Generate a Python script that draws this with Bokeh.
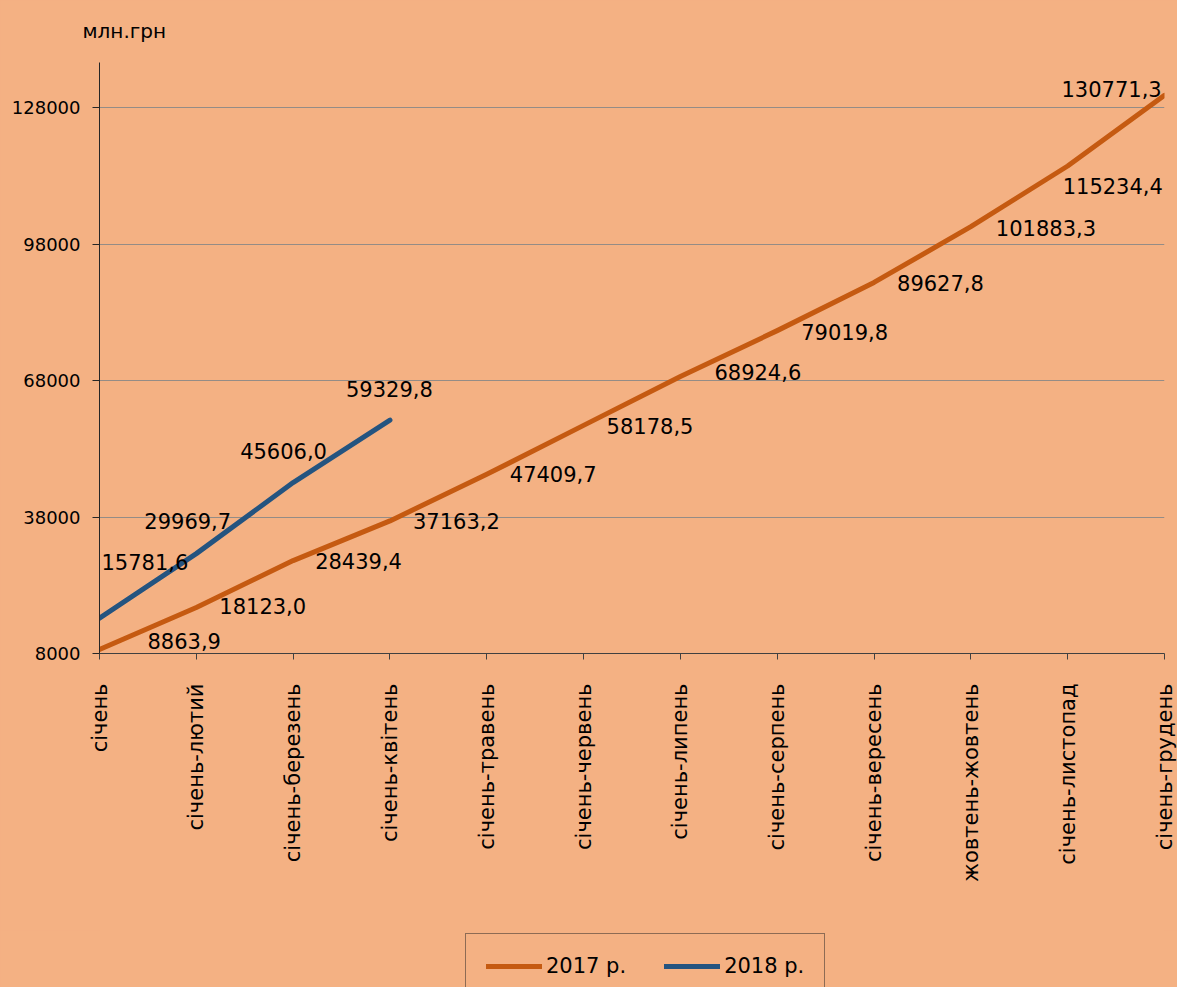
import math
from bokeh.plotting import figure
from bokeh.layouts import column
from bokeh.models import (Range1d, FixedTicker, PrintfTickFormatter, ColumnDataSource,
                          LabelSet, Legend, LegendItem)
from bokeh.core.properties import value
from bokeh.embed import file_html
from bokeh.resources import INLINE

# ---- data ----
periods = ["січень", "січень-лютий", "січень-березень", "січень-квітень",
           "січень-травень", "січень-червень", "січень-липень", "січень-серпень",
           "січень-вересень", "жовтень-жовтень", "січень-листопад", "січень-грудень"]
values_2017 = [8863.9, 18123.0, 28439.4, 37163.2, 47409.7, 58178.5,
               68924.6, 79019.8, 89627.8, 101883.3, 115234.4, 130771.3]
values_2018 = [15781.6, 29969.7, 45606.0, 59329.8]
y_ticks = [8000, 38000, 68000, 98000, 128000]
y_max = 138000
series_names = ["2017 р.", "2018 р."]
unit_label = "млн.грн"

# label placement offsets (screen px, right / down)
lab17_dx = [48, 23, 22, 23, 23, 23, 34, 24, 23, 25, -5, -103]
lab17_dy = [-1, 7, 8, 8, 8, 9, 3, 9, 9, 9, 28, 2]
lab18_dx = [2, -52, -53, -44]
lab18_dy = [-48, -25, -24, -23]

BG = "#F4B183"
C17 = "#C55A11"
C18 = "#245480"
GRID = "#948c86"
AXIS = "#404040"
FONT = "DejaVu Sans"

W, H = 1177, 987
H_MAIN = 930
H_LEG = H - H_MAIN
FRAME_L = 99


def fmt(v):
    return f"{v:.1f}".replace(".", ",")


src17 = ColumnDataSource(dict(
    x=list(range(len(values_2017))), y=values_2017,
    t=[fmt(v) for v in values_2017],
    dx=lab17_dx, dy=[-d for d in lab17_dy]))
src18 = ColumnDataSource(dict(
    x=list(range(len(values_2018))), y=values_2018,
    t=[fmt(v) for v in values_2018],
    dx=lab18_dx, dy=[-d for d in lab18_dy]))

n = len(periods)
p = figure(width=W, height=H_MAIN, output_backend="svg", toolbar_location=None,
           x_range=Range1d(0, n - 1), y_range=Range1d(y_ticks[0], y_max),
           min_border_left=FRAME_L, min_border_right=13,
           min_border_top=62, min_border_bottom=H_MAIN - 653)
p.background_fill_color = None
p.border_fill_color = BG
p.outline_line_color = None

# title as unit label
p.title.text = unit_label
p.title.align = "left"
p.title.vertical_align = "top"
p.title.offset = -17
p.title.text_font = FONT
p.title.text_font_size = "20px"
p.title.text_font_style = "normal"
p.title.text_color = "black"
p.title.standoff = 36

# x axis
p.xaxis.ticker = FixedTicker(ticks=list(range(n)))
p.xaxis.major_label_overrides = {i: s for i, s in enumerate(periods)}
p.xaxis.major_label_orientation = math.pi / 2
p.xaxis.major_label_text_font = FONT
p.xaxis.major_label_text_font_size = "21px"
p.xaxis.major_label_text_color = "black"
p.xaxis.major_label_standoff = 24
p.xaxis.major_tick_out = 6
p.xaxis.major_tick_in = 0
p.xaxis.minor_tick_line_color = None
p.xaxis.axis_line_color = AXIS
p.xaxis.major_tick_line_color = AXIS

# y axis
p.yaxis.ticker = FixedTicker(ticks=y_ticks)
p.yaxis.formatter = PrintfTickFormatter(format="%d")
p.yaxis.major_label_text_font = FONT
p.yaxis.major_label_text_font_size = "18px"
p.yaxis.major_label_text_color = "black"
p.yaxis.major_label_standoff = 12
p.yaxis.major_tick_out = 7
p.yaxis.major_tick_in = 0
p.yaxis.minor_tick_line_color = None
p.yaxis.axis_line_color = "#262626"
p.yaxis.major_tick_line_color = "#262626"

p.xgrid.grid_line_color = None
p.ygrid.ticker = FixedTicker(ticks=y_ticks)
p.ygrid.grid_line_color = GRID
p.ygrid.grid_line_width = 1

# lines
r17 = p.line("x", "y", source=src17, line_color=C17, line_width=5, line_cap="round",
             line_join="round")
r18 = p.line("x", "y", source=src18, line_color=C18, line_width=5, line_cap="round",
             line_join="round")

# data labels
for src in (src17, src18):
    p.add_layout(LabelSet(x="x", y="y", text="t", source=src,
                          x_offset="dx", y_offset="dy",
                          text_font=value(FONT), text_font_size="21px",
                          text_color="black", text_align="left",
                          text_baseline="alphabetic"))

# ---- legend strip below the chart ----
pl = figure(width=W, height=H_LEG, output_backend="svg", toolbar_location=None,
            x_range=Range1d(0, 1), y_range=Range1d(0, 1),
            min_border_left=0, min_border_right=0,
            min_border_top=0, min_border_bottom=0)
pl.axis.visible = False
pl.grid.visible = False
pl.outline_line_color = None
pl.background_fill_color = None
pl.border_fill_color = BG
# legend swatches only (kept out of view)
swatch = ColumnDataSource(dict(x=[-10, -9], y=[-10, -9]))
l17 = pl.line("x", "y", source=swatch, line_color=C17, line_width=5, line_cap="round")
l18 = pl.line("x", "y", source=swatch, line_color=C18, line_width=5, line_cap="round")

LEG_PAD = 20
LEG_H = 65
legend = Legend(items=[LegendItem(label=series_names[0], renderers=[l17]),
                       LegendItem(label=series_names[1], renderers=[l18])],
                location=(465 - FRAME_L, H_LEG - 4 - LEG_H), orientation="horizontal",
                label_text_font=FONT, label_text_font_size="21px",
                label_text_color="black", glyph_width=56, glyph_height=20,
                label_standoff=4, spacing=38, padding=LEG_PAD, margin=0,
                border_line_color="#262626", border_line_width=1,
                background_fill_color=BG, background_fill_alpha=1.0)
pl.add_layout(legend)

layout = column(p, pl, spacing=0, styles={"background-color": BG})
open("out.html", "w").write(file_html(layout, INLINE))
